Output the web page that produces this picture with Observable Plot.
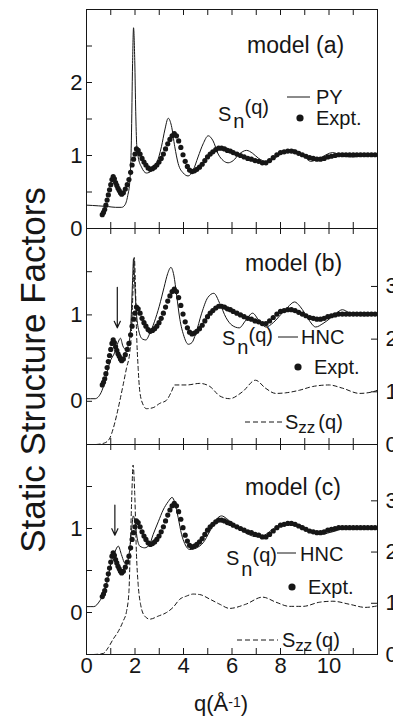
<!DOCTYPE html>
<html><head><meta charset="utf-8">
<script src="https://cdn.jsdelivr.net/npm/d3@7"></script>
<script src="https://cdn.jsdelivr.net/npm/@observablehq/plot@0.6"></script>
<style>
html,body{margin:0;padding:0;background:#fff;overflow:hidden;}
#wrap{position:relative;width:393px;height:721px;font-family:"Liberation Sans",Arial,Helvetica,sans-serif;color:#161616;}
#wrap svg{position:absolute;left:0;}
#ytitle{position:absolute;left:-167px;top:350px;width:400px;height:40px;line-height:40px;text-align:center;font-size:35px;transform:rotate(-90deg);white-space:nowrap;}
#xtitle{position:absolute;left:161px;top:691px;width:120px;text-align:center;font-size:22px;line-height:26px;white-space:nowrap;}
#xtitle sup{font-size:14px;position:relative;top:-2px;vertical-align:top;}
</style></head>
<body><div id="wrap"><div id="ytitle">Static Structure Factors</div><div id="xtitle">q(Å<sup>-1</sup>)</div></div>
<script>
// ---------- data ----------
// Experimental S_n(q) (same measurement shown in all three panels): [q, S]
const expt = [
[0.65,0.19],[0.70,0.22],[0.75,0.26],[0.80,0.32],[0.85,0.39],[0.90,0.46],[0.95,0.53],[1.00,0.60],
[1.05,0.67],[1.10,0.71],[1.15,0.68],[1.20,0.63],[1.25,0.59],[1.30,0.55],[1.35,0.52],[1.40,0.49],
[1.45,0.47],[1.52,0.49],[1.60,0.54],[1.68,0.60],[1.75,0.67],[1.82,0.77],[1.88,0.87],[1.94,0.95],
[2.00,1.02],[2.06,1.09],[2.13,1.07],[2.21,1.02],[2.29,0.96],[2.37,0.91],[2.45,0.87],[2.54,0.83],
[2.63,0.81],[2.72,0.82],[2.81,0.84],[2.90,0.87],[2.99,0.91],[3.08,0.96],[3.17,1.02],[3.26,1.09],
[3.35,1.16],[3.44,1.22],[3.53,1.27],[3.62,1.30],[3.71,1.27],[3.80,1.20],[3.89,1.11],[3.98,1.01],
[4.07,0.92],[4.16,0.85],[4.25,0.80],[4.35,0.78],[4.45,0.79],[4.55,0.81],[4.66,0.84],[4.77,0.88],
[4.88,0.93],[4.99,0.98],[5.10,1.02],[5.21,1.05],[5.33,1.08],[5.45,1.10],[5.57,1.10],[5.69,1.09],
[5.81,1.07],[5.93,1.06],[6.05,1.04],[6.20,1.02],[6.35,1.00],[6.50,0.98],[6.65,0.96],[6.80,0.95],
[6.95,0.93],[7.10,0.92],[7.25,0.90],[7.40,0.90],[7.55,0.93],[7.70,0.97],[7.85,1.01],[8.00,1.04],
[8.15,1.05],[8.30,1.06],[8.45,1.06],[8.60,1.05],[8.75,1.03],[8.90,1.01],[9.05,0.99],[9.20,0.97],
[9.35,0.96],[9.50,0.95],[9.65,0.95],[9.80,0.96],[9.95,0.98],[10.10,0.99],[10.25,1.00],[10.40,1.01],
[10.55,1.01],[10.70,1.01],[10.85,1.01],[11.00,1.01],[11.15,1.01],[11.30,1.01],[11.45,1.01],
[11.60,1.01],[11.75,1.01],[11.90,1.01]
];
// model (a): PY S_n(q)
const pyA = [
[0.00,0.32],[0.50,0.31],[0.90,0.30],[1.20,0.29],[1.45,0.29],[1.58,0.32],[1.70,0.45],[1.79,0.66],
[1.85,1.20],[1.90,2.26],[1.94,2.75],[1.99,2.30],[2.03,1.60],[2.07,1.15],[2.13,0.98],[2.27,0.84],
[2.47,0.76],[2.68,0.79],[2.89,0.89],[3.09,1.12],[3.23,1.35],[3.37,1.51],[3.50,1.41],[3.64,1.12],
[3.78,0.89],[3.99,0.76],[4.19,0.72],[4.40,0.80],[4.60,0.98],[4.81,1.16],[5.02,1.27],[5.22,1.20],
[5.43,1.02],[5.64,0.93],[5.84,0.90],[6.05,0.93],[6.30,1.02],[6.60,1.07],[6.85,1.03],[7.10,0.96],
[7.40,0.92],[7.80,0.97],[8.10,1.04],[8.50,1.08],[8.90,1.01],[9.25,0.92],[9.60,0.96],[10.15,1.04],
[10.60,0.99],[11.00,0.98],[11.50,1.00],[12.00,1.01]
];
// model (b): HNC S_n(q)
const hncB = [
[0.00,0.03],[0.35,0.03],[0.60,0.10],[0.76,0.23],[0.96,0.45],[1.17,0.57],[1.30,0.68],[1.40,0.73],
[1.50,0.64],[1.62,0.60],[1.74,0.66],[1.83,0.90],[1.90,1.40],[1.94,1.65],[1.99,1.35],[2.06,1.02],
[2.17,0.80],[2.31,0.72],[2.45,0.71],[2.60,0.78],[2.80,0.92],[3.00,1.10],[3.20,1.32],[3.35,1.48],
[3.48,1.55],[3.60,1.46],[3.72,1.22],[3.85,0.95],[4.00,0.77],[4.20,0.66],[4.35,0.68],[4.50,0.78],
[4.75,1.02],[5.00,1.20],[5.25,1.25],[5.50,1.13],[5.75,0.97],[6.00,0.88],[6.30,0.85],[6.55,0.93],
[6.85,1.02],[7.10,0.94],[7.40,0.86],[7.70,0.91],[8.00,1.00],[8.30,1.09],[8.58,1.15],[8.80,1.10],
[9.00,1.02],[9.20,0.93],[9.45,0.86],[9.75,0.90],[10.00,0.95],[10.30,1.02],[10.55,1.06],[10.80,1.03],
[11.00,1.00],[11.50,0.99],[12.00,1.00]
];
// model (b): S_zz(q) (right axis)
const szzB = [
[0.40,0.00],[0.75,0.03],[0.96,0.12],[1.10,0.30],[1.24,0.55],[1.37,0.82],[1.51,1.13],[1.65,1.45],
[1.79,1.77],[1.86,2.20],[1.92,2.97],[1.97,3.55],[2.02,3.00],[2.06,2.20],[2.13,1.45],[2.20,1.00],
[2.34,0.75],[2.47,0.68],[2.75,0.70],[3.02,0.78],[3.30,0.84],[3.50,1.00],[3.64,1.13],[4.12,1.13],
[4.67,1.16],[5.09,1.10],[5.50,0.92],[5.90,0.87],[6.43,1.00],[6.97,1.22],[7.38,1.07],[7.80,0.97],
[8.20,0.98],[8.78,1.03],[9.32,1.10],[10.00,1.13],[10.55,1.07],[11.26,0.97],[11.80,1.00],[12.00,1.03]
];
// model (c): HNC S_n(q)
const hncC = [
[0.00,0.07],[0.30,0.07],[0.55,0.14],[0.76,0.26],[0.89,0.42],[1.03,0.61],[1.17,0.72],[1.31,0.79],
[1.44,0.69],[1.55,0.60],[1.65,0.57],[1.75,0.68],[1.85,0.95],[1.93,1.15],[2.00,1.08],[2.08,0.90],
[2.20,0.79],[2.40,0.77],[2.60,0.81],[2.75,0.93],[2.96,1.08],[3.16,1.22],[3.37,1.32],[3.53,1.37],
[3.64,1.31],[3.78,1.13],[3.92,0.93],[4.05,0.82],[4.26,0.75],[4.54,0.77],[4.81,0.83],[5.09,0.97],
[5.36,1.11],[5.57,1.15],[5.77,1.12],[6.05,1.05],[6.30,1.00],[6.56,0.95],[6.85,0.91],[7.13,0.90],
[7.40,0.93],[7.67,0.99],[8.00,1.04],[8.41,1.07],[8.80,1.04],[9.20,0.98],[9.45,0.94],[9.73,0.93],
[10.00,0.95],[10.27,0.97],[10.55,1.00],[10.83,1.01],[11.40,1.01],[12.00,1.01]
];
// model (c): S_zz(q) (right axis)
const szzC = [
[0.30,0.00],[0.69,0.02],[0.89,0.13],[1.10,0.30],[1.31,0.45],[1.51,0.65],[1.65,0.84],[1.75,1.23],
[1.81,2.15],[1.87,3.13],[1.92,3.70],[1.99,3.13],[2.06,1.96],[2.13,1.37],[2.23,0.98],[2.40,0.75],
[2.61,0.69],[2.96,0.75],[3.30,0.82],[3.57,0.92],[3.85,1.08],[4.12,1.14],[4.40,1.18],[4.67,1.17],
[5.09,1.08],[5.50,0.98],[5.90,0.90],[6.56,0.98],[7.26,1.12],[7.82,1.02],[8.37,0.94],[8.93,0.94],
[9.60,1.02],[10.16,1.04],[10.85,0.98],[11.50,0.92],[12.00,0.95]
];
// arrows marking the pre-peak: [q, S from, S to]
const arrowsB = [[1.27, 1.32, 0.85]];
const arrowsC = [[1.17, 1.28, 0.92]];
// ticks and labels
const xTicks = [1,2,3,4,5,6,7,8,9,10,11];
const xLabels = [0,2,4,6,8,10];
const yTicksA = [0.5,1,1.5,2,2.5];
const yLabelsA = [0,1,2];
const yTicksBC = [0,0.5,1,1.5];
const yLabelsBC = [0,1];
const szzTicks = [1,2,3];
const szzLabels = [0,1,2,3];

// ---------- layout ----------
const W = 393, FL = 86, FR = 377, PW = FR - FL;
const SZZ_MAX = 4.1;
const INK = "#161616";
const FONT = "'Liberation Sans', Arial, Helvetica, sans-serif";
const wrap = document.getElementById("wrap");

function panel(cfg) {
  const {svgTop, height, frameTop, frameBottom, yDomain, yTicks, yLabels, line, szz, arrows, xLab} = cfg;
  const FH = frameBottom - frameTop;
  const toLeft = s => yDomain[0] + s * (yDomain[1] - yDomain[0]) / SZZ_MAX;
  const marks = [
    Plot.frame({stroke: INK, strokeWidth: 1}),
    Plot.tickY(yTicks, {y: d => d, insetRight: PW - 6, stroke: INK}),
    Plot.tickX(xTicks, {x: d => d, insetTop: FH - 6, stroke: INK}),
    Plot.tickX(xTicks, {x: d => d, insetBottom: FH - 6, stroke: INK}),
    Plot.text(yLabels, {y: d => d, text: d => String(d), frameAnchor: "left", dx: -4, textAnchor: "end", fontSize: 22, fill: INK}),
    Plot.line(line, {x: d => d[0], y: d => d[1], stroke: INK, strokeWidth: 1, curve: "monotone-x"}),
    Plot.dot(expt, {x: d => d[0], y: d => d[1], r: 2.6, fill: INK, stroke: "none"})
  ];
  if (szz) {
    marks.push(
      Plot.line(szz, {x: d => d[0], y: d => toLeft(d[1]), stroke: INK, strokeWidth: 1, strokeDasharray: "4,3", curve: "monotone-x"}),
      Plot.tickY(szzTicks, {y: d => toLeft(d), insetLeft: PW - 6, stroke: INK}),
      Plot.text(szzLabels, {y: d => toLeft(d), text: d => String(d), frameAnchor: "right", dx: 8, textAnchor: "start", fontSize: 22, fill: INK})
    );
  }
  if (arrows) {
    marks.push(Plot.arrow(arrows, {x1: d => d[0], y1: d => d[1], x2: d => d[0], y2: d => d[2], stroke: INK, strokeWidth: 1.2, headLength: 9, headAngle: 50}));
  }
  if (xLab) {
    marks.push(Plot.text(xLabels, {x: d => d, text: d => String(d), frameAnchor: "bottom", dy: 18, fontSize: 22, fill: INK}));
  }
  const svg = Plot.plot({
    width: W, height,
    marginLeft: FL, marginRight: W - FR,
    marginTop: frameTop - svgTop, marginBottom: svgTop + height - frameBottom,
    x: {domain: [0, 12], axis: null},
    y: {domain: yDomain, axis: null},
    style: `background: transparent; overflow: visible; font-family: ${FONT};`,
    marks
  });
  svg.style.top = svgTop + "px";
  wrap.appendChild(svg);
  return d3.select(svg);
}

function baseText(g, top, x, y, size) {
  return g.append("text").attr("x", x).attr("y", y - top).attr("font-size", size)
    .attr("text-anchor", "start").attr("fill", INK).attr("font-family", FONT);
}
function txt(g, top, x, y, s, size) {
  return baseText(g, top, x, y, size).text(s);
}
function snLabel(g, top, x, yS, yN, yQ) {
  const t = baseText(g, top, x, yS, 20);
  t.append("tspan").text("S");
  t.append("tspan").attr("dx", 2).attr("dy", yN - yS).text("n");
  t.append("tspan").attr("dy", yQ - yN).text("(q)");
}
function szzLabel(g, top, x, y) {
  const t = baseText(g, top, x, y, 20);
  t.append("tspan").text("S");
  t.append("tspan").attr("dy", 4).attr("font-size", 17).text("zz");
  t.append("tspan").attr("dx", 3).attr("dy", -4).text("(q)");
}
function lineKey(g, top, x1, x2, y, dash) {
  const l = g.append("line").attr("x1", x1).attr("x2", x2).attr("y1", y - top).attr("y2", y - top)
    .attr("stroke", INK).attr("stroke-width", 1);
  if (dash) l.attr("stroke-dasharray", "5,3");
}
function dotKey(g, top, x, y) {
  g.append("circle").attr("cx", x).attr("cy", y - top).attr("r", 3.6).attr("fill", INK);
}

// panel (a)
const topA = 0;
const gA = panel({svgTop: topA, height: 240, frameTop: 9, frameBottom: 228, yDomain: [0, 3],
  yTicks: yTicksA, yLabels: yLabelsA, line: pyA});
txt(gA, topA, 247, 53, "model (a)", 23);
snLabel(gA, topA, 218, 121, 128, 114);
lineKey(gA, topA, 287, 310, 97);
txt(gA, topA, 316, 104, "PY", 20);
dotKey(gA, topA, 300, 118);
txt(gA, topA, 316, 125, "Expt.", 20);

// panel (b)
const topB = 218;
const gB = panel({svgTop: topB, height: 238, frameTop: 228, frameBottom: 444, yDomain: [-0.5, 2],
  yTicks: yTicksBC, yLabels: yLabelsBC, line: hncB, szz: szzB, arrows: arrowsB});
txt(gB, topB, 245, 271, "model (b)", 23);
snLabel(gB, topB, 222, 345, 354, 342);
lineKey(gB, topB, 278, 298, 337);
txt(gB, topB, 301, 344, "HNC", 20);
dotKey(gB, topB, 298, 367);
txt(gB, topB, 314, 374, "Expt.", 20);
lineKey(gB, topB, 245, 282, 422, true);
szzLabel(gB, topB, 285, 429);

// panel (c)
const topC = 434;
const gC = panel({svgTop: topC, height: 287, frameTop: 444, frameBottom: 654, yDomain: [-0.5, 2],
  yTicks: yTicksBC, yLabels: yLabelsBC, line: hncC, szz: szzC, arrows: arrowsC, xLab: true});
txt(gC, topC, 245, 495, "model (c)", 23);
snLabel(gC, topC, 226, 565, 576, 562);
lineKey(gC, topC, 277, 296, 553);
txt(gC, topC, 300, 561, "HNC", 20);
dotKey(gC, topC, 292, 587);
txt(gC, topC, 308, 594, "Expt.", 20);
lineKey(gC, topC, 237, 278, 640, true);
szzLabel(gC, topC, 282, 647);
</script>
</body></html>
